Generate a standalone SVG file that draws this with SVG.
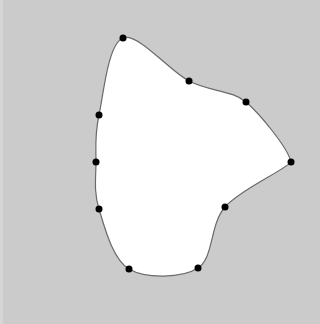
<svg xmlns="http://www.w3.org/2000/svg" width="320" height="324" viewBox="0 0 320 324">
<style>
.shape{fill:#fff;stroke:#6a6a6a;stroke-width:1.2}
.pt{fill:#000}
</style>
<rect x="0" y="0" width="320" height="324" fill="#cbcbcb"/>
<rect x="0" y="0" width="3" height="324" fill="#d6d6d6"/>
<g id="connectors">
<path class="shape" d="M123,38 C138,32.3 168.5,70.3 189,81 C209.5,91.7 232,90 246,102 C260,114 288,148 291,162 C285,170 240.5,189.3 225,207 C209.5,224.7 214,257.7 198,268 C182,278.3 145.5,278.8 129,269 C112.5,259.2 104.5,226.8 99,209 C93.5,191.2 96,177.7 96,162 C96,146.3 94.5,135.7 99,115 C103.5,94.3 108,43.7 123,38 Z"/>
</g>
<g id="p0"><circle class="pt" cx="123" cy="38" r="3.5"/></g>
<g id="p1"><circle class="pt" cx="189" cy="81" r="3.5"/></g>
<g id="p2"><circle class="pt" cx="246" cy="102" r="3.5"/></g>
<g id="p3"><circle class="pt" cx="291" cy="162" r="3.5"/></g>
<g id="p4"><circle class="pt" cx="225" cy="207" r="3.5"/></g>
<g id="p5"><circle class="pt" cx="198" cy="268" r="3.5"/></g>
<g id="p6"><circle class="pt" cx="129" cy="269" r="3.5"/></g>
<g id="p7"><circle class="pt" cx="99" cy="209" r="3.5"/></g>
<g id="p8"><circle class="pt" cx="96" cy="162" r="3.5"/></g>
<g id="p9"><circle class="pt" cx="99" cy="115" r="3.5"/></g>
</svg>
